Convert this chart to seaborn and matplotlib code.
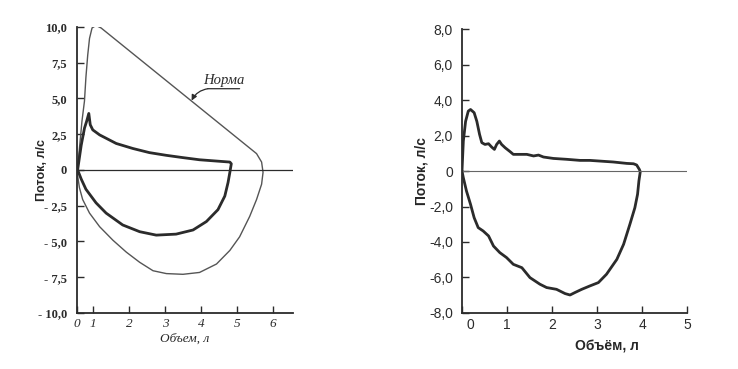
import numpy as np
import pandas as pd
import matplotlib
matplotlib.use("Agg")
import matplotlib.pyplot as plt
import matplotlib.transforms as mtransforms
import seaborn as sns

# ---------------- data ----------------
# Left panel: normal loop ("Норма") and pathological loop
norm_x = [0.58, 0.63, 0.70, 0.77, 0.81, 0.86, 0.91, 0.98, 1.09, 1.23, 5.54, 5.68, 5.72, 5.68,
          5.54, 5.35, 5.07, 4.80, 4.43, 3.96, 3.50, 3.04, 2.67, 2.30, 1.93, 1.56, 1.19, 0.91,
          0.72, 0.63, 0.58, 0.58]
norm_y = [0.07, 1.5, 3.4, 4.82, 6.48, 8.03, 9.2, 9.93, 10.1, 9.93, 1.14, 0.55, -0.17, -1.0,
          -2.07, -3.25, -4.68, -5.63, -6.58, -7.17, -7.3, -7.25, -7.05, -6.46, -5.75, -4.92,
          -3.97, -3.02, -2.07, -1.24, -0.4, 0.07]

path_x = [0.58, 0.68, 0.77, 0.83, 0.89, 0.93, 1.00, 1.19, 1.65, 2.11, 2.57, 3.04, 3.50, 3.96,
          4.43, 4.80, 4.84, 4.80, 4.75, 4.66, 4.47, 4.15, 3.78, 3.31, 2.76, 2.30, 1.83, 1.37,
          1.09, 0.81, 0.68, 0.58]
path_y = [0.0, 1.73, 2.92, 3.4, 3.95, 3.16, 2.8, 2.45, 1.85, 1.5, 1.21, 1.02, 0.86, 0.71,
          0.62, 0.55, 0.43, -0.17, -0.88, -1.83, -2.78, -3.61, -4.2, -4.49, -4.56, -4.32,
          -3.85, -3.02, -2.3, -1.35, -0.64, 0.0]

# Right panel: measured loop
r_x = [0.0, 0.03, 0.08, 0.14, 0.19, 0.27, 0.33, 0.39, 0.44, 0.51, 0.59, 0.66, 0.72, 0.77, 0.83,
       0.88, 0.96, 1.07, 1.14, 1.29, 1.44, 1.59, 1.70, 1.81, 2.03, 2.33, 2.62, 2.84, 3.07, 3.36,
       3.66, 3.81, 3.88, 3.94, 3.96, 3.93, 3.90, 3.84, 3.73, 3.59, 3.44, 3.21, 3.03, 2.84, 2.66,
       2.51, 2.40, 2.29, 2.10, 1.88, 1.73, 1.51, 1.33, 1.14, 0.99, 0.84, 0.70, 0.59, 0.47, 0.36,
       0.27, 0.19, 0.10, 0.03, 0.0]
r_y = [0.0, 1.69, 2.8, 3.38, 3.47, 3.29, 2.8, 2.07, 1.6, 1.5, 1.54, 1.35, 1.22, 1.5, 1.69,
       1.5, 1.31, 1.09, 0.94, 0.94, 0.94, 0.85, 0.9, 0.79, 0.71, 0.66, 0.6, 0.6, 0.56, 0.51,
       0.43, 0.41, 0.34, 0.09, -0.04, -0.56, -1.31, -2.07, -3.0, -4.13, -4.98, -5.82, -6.29,
       -6.48, -6.67, -6.85, -6.99, -6.91, -6.67, -6.57, -6.38, -6.01, -5.45, -5.26, -4.88,
       -4.6, -4.23, -3.66, -3.38, -3.19, -2.63, -1.88, -1.13, -0.38, 0.0]

left_xticks = [0.556, 1, 2, 3, 4, 5, 6]
left_xlabels = ["0", "1", "2", "3", "4", "5", "6"]
left_yticks = [10, 7.5, 5, 2.5, 0, -2.5, -5, -7.5, -10]
left_ylabels = ["10,0", "7,5", "5,0", "2,5", "0", "- 2,5", "- 5,0", "- 7,5", "- 10,0"]
right_xticks = [0, 1, 2, 3, 4, 5]
right_yticks = [8, 6, 4, 2, 0, -2, -4, -6, -8]
right_ylabels = ["8,0", "6,0", "4,0", "2,0", "0", "-2,0", "-4,0", "-6,0", "-8,0"]

norm_label = "Норма"
norm_arrow_xy = (3.74, 4.85)
norm_line_start = (4.19, 5.68)
norm_line_end = (5.07, 5.68)
norm_text_x = 4.05

# ---------------- drawing ----------------
sns.set_style("ticks")
plt.rcParams['font.family'] = ['DejaVu Sans']

fig = plt.figure(figsize=(7.38, 3.69), dpi=100)
axL = fig.add_axes([0.104, 0.152, 0.293, 0.775])
axR = fig.add_axes([0.626, 0.152, 0.305, 0.769])

ink = "#2b2b2b"

df_norm = pd.DataFrame({"x": norm_x, "y": norm_y})
df_path = pd.DataFrame({"x": path_x, "y": path_y})
df_r = pd.DataFrame({"x": r_x, "y": r_y})

sns.lineplot(data=df_norm, x="x", y="y", sort=False, estimator=None, ax=axL,
             color="#555555", linewidth=1.0)
sns.lineplot(data=df_path, x="x", y="y", sort=False, estimator=None, ax=axL,
             color=ink, linewidth=2.0)
axL.axhline(0, xmin=0, xmax=1, color=ink, linewidth=0.9)
axL.set_xlim(0.556, 6.55)
axL.set_ylim(-10, 10)

sns.lineplot(data=df_r, x="x", y="y", sort=False, estimator=None, ax=axR,
             color=ink, linewidth=2.0)
axR.axhline(0, xmin=0, xmax=1, color="#666666", linewidth=0.8)
axR.set_xlim(0, 5)
axR.set_ylim(-8, 8)

serif = ['Liberation Serif', 'DejaVu Serif']
sans = ['Liberation Sans', 'DejaVu Sans']

for ax in (axL, axR):
    sns.despine(ax=ax)
    ax.spines['left'].set_color(ink)
    ax.spines['bottom'].set_color(ink)
    ax.spines['left'].set_linewidth(1.3)
    ax.spines['bottom'].set_linewidth(1.3)
    ax.tick_params(direction='in', length=5, width=1, colors=ink)

axL.tick_params(axis='y', pad=7)
axR.tick_params(axis='y', pad=6.5)

axL.set_xticks(left_xticks)
axL.set_xticklabels(left_xlabels, family=serif, style='italic', fontsize=9.5)
axL.set_yticks(left_yticks)
axL.set_yticklabels(left_ylabels, family=serif, fontsize=9, weight='bold')
axL.set_xlabel("Объем, л", family=serif, style='italic', fontsize=9.5, labelpad=2)
axL.set_ylabel("Поток, л/с", family=sans, fontsize=9, weight='bold')
axL.yaxis.set_label_coords(-0.135, 0.5)

axR.set_xticks(right_xticks)
axR.set_xticklabels([str(t) for t in right_xticks], family=sans, fontsize=10)
axR.set_yticks(right_yticks)
axR.set_yticklabels(right_ylabels, family=sans, fontsize=10)
axR.set_xlabel("Объём, л", family=sans, fontsize=10, weight='bold')
axR.xaxis.set_label_coords(0.646, -0.095)
axR.set_ylabel("Поток, л/с", family=sans, fontsize=10, weight='bold', labelpad=0)

# shift the "0" label a little to the right, as in the original
lbl0 = axR.get_xticklabels()[0]
lbl0.set_transform(lbl0.get_transform() + mtransforms.ScaledTranslation(8 / 100, 0, fig.dpi_scale_trans))

# annotation "Норма" with underline and arrow
axL.annotate(norm_label, xy=(norm_text_x, norm_line_start[1]), xytext=(0, 1.5),
             textcoords='offset points', family=serif, style='italic', fontsize=10.5,
             color=ink, ha='left', va='bottom')
axL.annotate("", xy=norm_line_start, xytext=norm_line_end,
             arrowprops=dict(arrowstyle='-', color=ink, lw=0.9, shrinkA=0, shrinkB=0))
axL.annotate("", xy=norm_arrow_xy, xytext=norm_line_start,
             arrowprops=dict(arrowstyle='-|>', color=ink, lw=0.9, mutation_scale=8,
                             shrinkA=0, shrinkB=0, connectionstyle="arc3,rad=0.25"))

fig.savefig("out.png", dpi=100, facecolor="white")
